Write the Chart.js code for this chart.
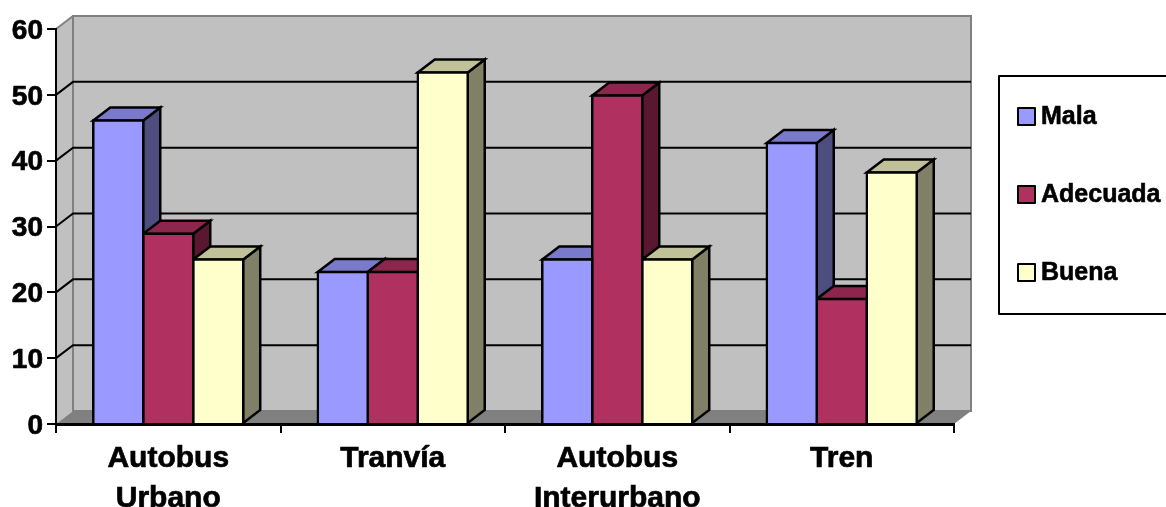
<!DOCTYPE html>
<html>
<head>
<meta charset="utf-8">
<style>
body { margin: 0; background: #fff; }
canvas { display: block; }
</style>
<script src="https://cdn.jsdelivr.net/npm/chart.js@4"></script>
</head>
<body>
<canvas id="myChart" width="1166" height="507"></canvas>
<script>
var categories = [['Autobus', 'Urbano'], 'Tranvía', ['Autobus', 'Interurbano'], 'Tren'];
var mala = [46.1, 23.1, 25, 42.7];
var adecuada = [28.9, 23.1, 49.9, 19];
var buena = [25, 53.4, 25, 38.2];
var yTicks = [0, 10, 20, 30, 40, 50, 60];

var fontName = '"Liberation Sans", Arial, sans-serif';
var depthX = 17, depthY = 13;

// front colour, side colour, top colour
var malaColors = ['#9999FF', '#4D4D80', '#7A7ACC'];
var adecuadaColors = ['#B03060', '#591830', '#8D264D'];
var buenaColors = ['#FFFFCC', '#808066', '#C0C099'];

function poly(ctx, pts, fill, stroke, lw) {
	ctx.beginPath();
	ctx.moveTo(pts[0][0], pts[0][1]);
	for (var i = 1; i < pts.length; i++) ctx.lineTo(pts[i][0], pts[i][1]);
	ctx.closePath();
	ctx.fillStyle = fill;
	ctx.fill();
	if (stroke) {
		ctx.strokeStyle = stroke;
		ctx.lineWidth = lw;
		ctx.lineJoin = 'miter';
		ctx.stroke();
	}
}

// grey walls, floor and grid lines behind the bars
var wallsPlugin = {
	id: 'walls',
	beforeDraw: function(chart) {
		var ctx = chart.ctx, a = chart.chartArea, y = chart.scales.y;
		ctx.save();
		poly(ctx, [[a.left, a.bottom], [a.left + depthX, a.bottom - depthY], [a.left + depthX, a.top - depthY], [a.left, a.top]], '#C0C0C0');
		poly(ctx, [[a.left + depthX, a.top - depthY], [a.right + depthX, a.top - depthY], [a.right + depthX, a.bottom - depthY], [a.left + depthX, a.bottom - depthY]], '#C0C0C0', '#808080', 2);
		poly(ctx, [[a.left, a.bottom], [a.left + depthX, a.bottom - depthY], [a.right + depthX, a.bottom - depthY], [a.right, a.bottom]], '#808080');
		ctx.beginPath();
		ctx.moveTo(a.left, a.top);
		ctx.lineTo(a.left + depthX, a.top - depthY);
		ctx.strokeStyle = '#808080';
		ctx.lineWidth = 2;
		ctx.stroke();
		ctx.strokeStyle = '#000';
		yTicks.forEach(function(t) {
			if (t === 0 || t === 60) return;
			var py = y.getPixelForValue(t);
			ctx.beginPath();
			ctx.moveTo(a.left, py);
			ctx.lineTo(a.left + depthX, py - depthY);
			ctx.lineTo(a.right + depthX, py - depthY);
			ctx.stroke();
		});
		ctx.restore();
	}
};

// side and top faces of each bar, the front is the normal bar
var depthPlugin = {
	id: 'depth',
	beforeDatasetsDraw: function(chart) {
		var ctx = chart.ctx;
		var colors = [malaColors, adecuadaColors, buenaColors];
		ctx.save();
		for (var c = 0; c < categories.length; c++) {
			for (var d = 0; d < chart.data.datasets.length; d++) {
				var bar = chart.getDatasetMeta(d).data[c];
				var l = bar.x - bar.width / 2, r = bar.x + bar.width / 2, t = bar.y, b = bar.base;
				poly(ctx, [[r, t], [r + depthX, t - depthY], [r + depthX, b - depthY], [r, b]], colors[d][1], '#000', 2.5);
				poly(ctx, [[l, t], [l + depthX, t - depthY], [r + depthX, t - depthY], [r, t]], colors[d][2], '#000', 2.5);
			}
		}
		ctx.restore();
	}
};

// y labels sit a little lower than the canvas middle baseline, legend box runs off the right edge
var textPlugin = {
	id: 'boxLegend',
	afterDraw: function(chart) {
		var ctx = chart.ctx, y = chart.scales.y;
		var rows = [116, 194, 272];
		ctx.save();
		ctx.textBaseline = 'middle';
		ctx.lineJoin = 'round';
		ctx.font = 'bold 28px ' + fontName;
		ctx.textAlign = 'right';
		ctx.fillStyle = '#000';
		ctx.strokeStyle = '#000';
		ctx.lineWidth = 0.7;
		yTicks.forEach(function(t) {
			ctx.fillText(String(t), 43, y.getPixelForValue(t) + 2);
			ctx.strokeText(String(t), 43, y.getPixelForValue(t) + 2);
		});
		ctx.textAlign = 'left';
		ctx.lineWidth = 2;
		ctx.strokeRect(999, 76, 180, 238);
		ctx.font = 'bold 25px ' + fontName;
		chart.data.datasets.forEach(function(ds, i) {
			ctx.lineWidth = 2;
			ctx.fillStyle = ds.backgroundColor;
			ctx.fillRect(1018, rows[i] - 8, 17, 17);
			ctx.strokeRect(1018, rows[i] - 8, 17, 17);
			ctx.fillStyle = '#000';
			ctx.lineWidth = 0.6;
			ctx.fillText(ds.label, 1041, rows[i] + 1);
			ctx.strokeText(ds.label, 1041, rows[i] + 1);
		});
		ctx.restore();
	}
};

function makeDataset(label, values, colors) {
	return {
		label: label,
		data: values,
		backgroundColor: colors[0],
		borderColor: '#000',
		borderWidth: 2.5,
		inflateAmount: 1.25,
		barPercentage: 1,
		categoryPercentage: 0.668
	};
}

var ctx = document.getElementById('myChart').getContext('2d');
var chart = new Chart(ctx, {
	type: 'bar',
	data: {
		labels: categories,
		datasets: [
			makeDataset('Mala', mala, malaColors),
			makeDataset('Adecuada', adecuada, adecuadaColors),
			makeDataset('Buena', buena, buenaColors)
		]
	},
	plugins: [wallsPlugin, depthPlugin, textPlugin],
	options: {
		responsive: false,
		animation: false,
		layout: { padding: { top: 29, right: 212, left: 0, bottom: 0 } },
		plugins: { legend: { display: false }, tooltip: { enabled: false } },
		scales: {
			x: {
				afterFit: function(s) { s.height = 83; },
				grid: { offset: true, drawOnChartArea: false, drawTicks: true, tickLength: 9, color: '#000', lineWidth: 2 },
				border: { color: '#000', width: 3 },
				ticks: {
					autoSkip: false,
					maxRotation: 0,
					padding: 6,
					color: '#000',
					textStrokeColor: '#000',
					textStrokeWidth: 0.7,
					font: { family: fontName, size: 30, weight: 'bold', lineHeight: 1.333 }
				}
			},
			y: {
				min: 0,
				max: 60,
				afterFit: function(s) { s.width = 56; },
				afterBuildTicks: function(s) {
					s.ticks = yTicks.map(function(v) { return { value: v }; });
				},
				grid: { drawOnChartArea: false, drawTicks: true, tickLength: 9, color: '#000', lineWidth: 2 },
				border: { color: '#000', width: 2 },
				ticks: { display: false }
			}
		}
	}
});
</script>
</body>
</html>
